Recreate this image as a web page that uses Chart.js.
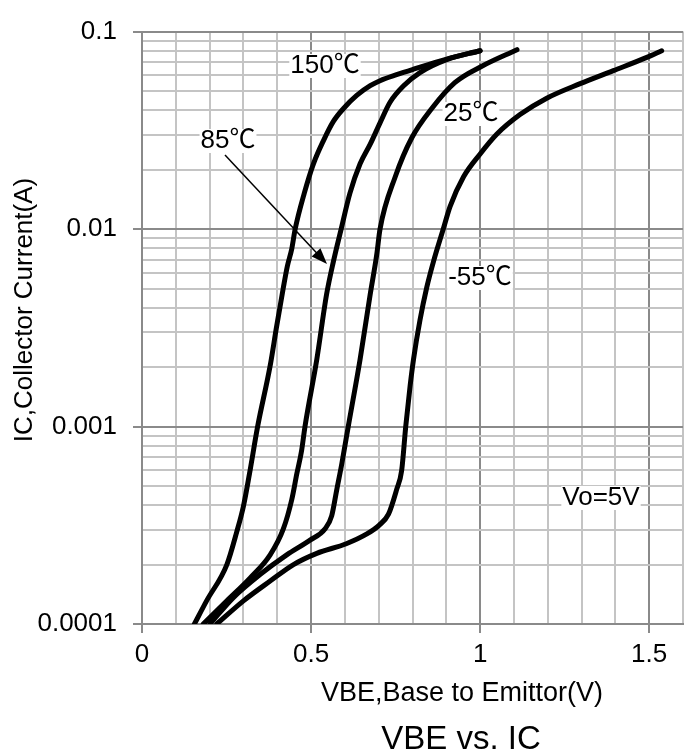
<!DOCTYPE html>
<html>
<head>
<meta charset="utf-8">
<script src="https://cdn.jsdelivr.net/npm/chart.js@4/dist/chart.umd.min.js"></script>
<style>
  html, body { margin: 0; padding: 0; background: #fff; }
</style>
</head>
<body>
<canvas id="chart" width="690" height="756"></canvas>
<script>
// VBE (V) / IC (A)
const vbe150 = [0.155, 0.191, 0.251, 0.280, 0.300, 0.318, 0.342, 0.379, 0.398, 0.418, 0.430, 0.443, 0.453, 0.480, 0.507, 0.536, 0.566, 0.596, 0.635, 0.675, 0.704, 0.753, 0.803, 0.901, 1.0];
const ic150 = [1.0e-4, 1.31e-4, 2.0e-4, 2.92e-4, 3.95e-4, 5.78e-4, 1.0e-3, 2.03e-3, 3.2e-3, 5.05e-3, 6.5e-3, 7.96e-3, 1.0e-2, 1.52e-2, 2.14e-2, 2.79e-2, 3.51e-2, 4.08e-2, 4.75e-2, 5.32e-2, 5.64e-2, 6.05e-2, 6.45e-2, 7.26e-2, 8.0e-2];

const vbe85 = [0.181, 0.251, 0.320, 0.379, 0.418, 0.443, 0.458, 0.472, 0.482, 0.517, 0.546, 0.566, 0.589, 0.615, 0.645, 0.675, 0.704, 0.734, 0.773, 0.822, 0.901, 1.0];
const ic85 = [1.0e-4, 1.31e-4, 1.71e-4, 2.24e-4, 3.03e-4, 4.27e-4, 5.78e-4, 7.55e-4, 1.0e-3, 2.19e-3, 4.68e-3, 6.84e-3, 1.0e-2, 1.52e-2, 2.14e-2, 2.69e-2, 3.45e-2, 4.4e-2, 5.3e-2, 6.2e-2, 7.21e-2, 8.0e-2];

const vbe25 = [0.201, 0.270, 0.349, 0.428, 0.497, 0.541, 0.561, 0.576, 0.591, 0.601, 0.610, 0.645, 0.675, 0.694, 0.704, 0.749, 0.798, 0.857, 0.926, 1.005, 1.109];
const ic25 = [1.0e-4, 1.36e-4, 1.78e-4, 2.24e-4, 2.66e-4, 3.03e-4, 3.53e-4, 4.79e-4, 6.49e-4, 8.15e-4, 1.0e-3, 2.19e-3, 4.68e-3, 7.38e-3, 1.0e-2, 1.84e-2, 2.9e-2, 4.08e-2, 5.53e-2, 6.68e-2, 8.1e-2];

const vbeM55 = [0.221, 0.300, 0.379, 0.448, 0.517, 0.604, 0.665, 0.701, 0.729, 0.753, 0.768, 0.780, 0.793, 0.803, 0.822, 0.842, 0.862, 0.891, 0.911, 0.951, 1.0, 1.049, 1.118, 1.197, 1.296, 1.394, 1.493, 1.537];
const icM55 = [1.0e-4, 1.31e-4, 1.65e-4, 2.0e-4, 2.28e-4, 2.55e-4, 2.86e-4, 3.16e-4, 3.6e-4, 4.79e-4, 6.0e-4, 1.0e-3, 1.61e-3, 2.19e-3, 3.45e-3, 5.05e-3, 6.84e-3, 1.0e-2, 1.3e-2, 1.84e-2, 2.4e-2, 3.02e-2, 3.8e-2, 4.6e-2, 5.45e-2, 6.34e-2, 7.4e-2, 8.0e-2];

const seriesNames = ['150℃', '85℃', '25℃', '-55℃'];
const xTickLabels = ['0', '0.5', '1', '1.5'];
const yDecades = [0.0001, 0.001, 0.01, 0.1];
const yTickLabels = ['0.0001', '0.001', '0.01', '0.1'];

const FONT = '"Liberation Sans", Arial, "Noto Sans CJK JP", sans-serif';
const MAJOR = '#8a8a8a';
const MINOR = '#c4c4c4';

function toPoints(xs, ys) {
    return xs.map((x, i) => ({ x: x, y: ys[i] }));
}

function isHalf(v) {
    return Math.abs(v * 2 - Math.round(v * 2)) < 1e-6;
}

function decadeIndex(v) {
    return yDecades.findIndex(d => Math.abs(v / d - 1) < 1e-6);
}

const curves = [
    [vbe150, ic150],
    [vbe85, ic85],
    [vbe25, ic25],
    [vbeM55, icM55]
];

// labels, arrow and titles
const textPlugin = {
    id: 'texts',
    afterDraw(chart) {
        const ctx = chart.ctx;
        ctx.save();
        ctx.textAlign = 'center';
        ctx.textBaseline = 'middle';

        const notes = [
            [seriesNames[0], 325, 66],
            [seriesNames[1], 228, 141],
            [seriesNames[2], 471, 114],
            [seriesNames[3], 480, 278],
            ['Vo=5V', 601, 498]
        ];
        ctx.font = '26px ' + FONT;
        notes.forEach(n => {
            const w = ctx.measureText(n[0]).width;
            ctx.fillStyle = '#fff';
            ctx.fillRect(n[1] - w / 2 - 1, n[2] - 12, w + 2, 24);
            ctx.fillStyle = '#000';
            ctx.fillText(n[0], n[1], n[2]);
        });

        // arrow from 85℃ label to its curve
        const x0 = 225, y0 = 155, x1 = 327, y1 = 264;
        const a = Math.atan2(y1 - y0, x1 - x0);
        ctx.strokeStyle = '#000';
        ctx.lineWidth = 1.5;
        ctx.beginPath();
        ctx.moveTo(x0, y0);
        ctx.lineTo(x1 - 12 * Math.cos(a), y1 - 12 * Math.sin(a));
        ctx.stroke();
        ctx.fillStyle = '#000';
        ctx.beginPath();
        ctx.moveTo(x1, y1);
        ctx.lineTo(x1 - 16 * Math.cos(a) + 6 * Math.sin(a), y1 - 16 * Math.sin(a) - 6 * Math.cos(a));
        ctx.lineTo(x1 - 16 * Math.cos(a) - 6 * Math.sin(a), y1 - 16 * Math.sin(a) + 6 * Math.cos(a));
        ctx.closePath();
        ctx.fill();

        ctx.font = '27px ' + FONT;
        ctx.fillText('VBE,Base to Emittor(V)', 462, 694);
        ctx.font = '33px ' + FONT;
        ctx.fillText('VBE vs. IC', 461, 740);

        ctx.translate(25, 310);
        ctx.rotate(-Math.PI / 2);
        ctx.font = '26px ' + FONT;
        ctx.fillText('IC,Collector Current(A)', 0, 0);
        ctx.restore();
    }
};

new Chart(document.getElementById('chart'), {
    type: 'scatter',
    data: {
        datasets: curves.map((c, i) => ({
            label: seriesNames[i],
            data: toPoints(c[0], c[1]),
            showLine: true,
            borderColor: '#000',
            borderWidth: 5,
            borderCapStyle: 'round',
            borderJoinStyle: 'round',
            pointRadius: 0,
            cubicInterpolationMode: 'monotone'
        }))
    },
    options: {
        responsive: false,
        animation: false,
        layout: { padding: { top: 18, right: 7, left: 0, bottom: 0 } },
        plugins: {
            legend: { display: false },
            tooltip: { enabled: false }
        },
        scales: {
            x: {
                type: 'linear',
                min: 0,
                max: 1.6,
                afterFit: (scale) => { scale.height = 132; },
                ticks: {
                    stepSize: 0.1,
                    autoSkip: false,
                    maxRotation: 0,
                    padding: 6,
                    color: '#000',
                    font: { family: FONT, size: 26 },
                    callback: (v) => isHalf(v) ? xTickLabels[Math.round(v * 2)] : ''
                },
                grid: {
                    color: (c) => isHalf(c.tick.value) ? MAJOR : MINOR,
                    tickColor: (c) => isHalf(c.tick.value) ? MAJOR : 'rgba(0,0,0,0)',
                    lineWidth: 2,
                    tickLength: 9
                },
                border: { display: true, color: MAJOR, width: 2 }
            },
            y: {
                type: 'logarithmic',
                min: 0.0001,
                max: 0.1,
                afterFit: (scale) => { scale.width = 142; },
                afterBuildTicks: (scale) => {
                    const t = [];
                    yDecades.slice(0, 3).forEach(d => {
                        for (let k = 1; k < 10; k++) t.push({ value: d * k });
                    });
                    t.push({ value: 0.1 });
                    scale.ticks = t;
                },
                ticks: {
                    autoSkip: false,
                    padding: 16,
                    color: '#000',
                    font: { family: FONT, size: 26 },
                    callback: (v) => {
                        const i = decadeIndex(v);
                        return i >= 0 ? yTickLabels[i] : '';
                    }
                },
                grid: {
                    color: (c) => decadeIndex(c.tick.value) >= 0 ? MAJOR : MINOR,
                    tickColor: (c) => decadeIndex(c.tick.value) >= 0 ? MAJOR : 'rgba(0,0,0,0)',
                    lineWidth: 2,
                    tickLength: 9
                },
                border: { display: true, color: MAJOR, width: 2 }
            }
        }
    },
    plugins: [textPlugin]
});
</script>
</body>
</html>
